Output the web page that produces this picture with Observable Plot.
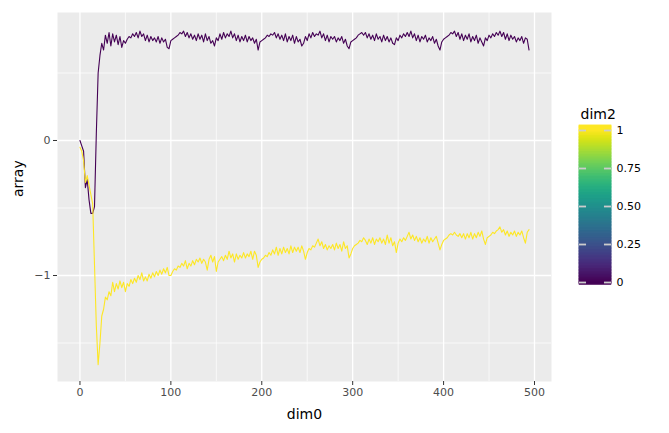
<!DOCTYPE html>
<html>
<head>
<meta charset="utf-8">
<script src="https://cdn.jsdelivr.net/npm/d3@7"></script>
<script src="https://cdn.jsdelivr.net/npm/@observablehq/plot@0.6"></script>
<style>
  html, body { margin: 0; padding: 0; background: #ffffff; }
  #wrap { position: relative; width: 669px; height: 433px; font-family: "DejaVu Sans", sans-serif; }
  #main { position: absolute; left: 0; top: 0; }
  #legend { position: absolute; left: 560px; top: 0; }
</style>
</head>
<body>
<div id="wrap"><div id="main"></div><div id="legend"></div></div>
<script>
// dim0 coordinate: sampled every 2 steps from 0 to 494
const dim0Step = 2;

// dim2 = 0 (purple series)
const array_dim2_0 = [
  0.00,-0.04,-0.08,-0.35,-0.29,-0.44,-0.54,-0.54,-0.49,0.05,
  0.50,0.63,0.72,0.67,0.78,0.72,0.80,0.70,0.79,0.73,
  0.78,0.71,0.77,0.69,0.74,0.72,0.75,0.77,0.76,0.79,
  0.77,0.80,0.76,0.81,0.77,0.79,0.74,0.78,0.73,0.77,
  0.74,0.76,0.73,0.77,0.72,0.76,0.73,0.75,0.69,0.68,
  0.74,0.75,0.76,0.77,0.78,0.80,0.79,0.81,0.77,0.80,
  0.76,0.79,0.75,0.78,0.74,0.79,0.75,0.78,0.73,0.79,
  0.74,0.77,0.72,0.74,0.70,0.76,0.74,0.79,0.75,0.80,
  0.76,0.79,0.77,0.81,0.76,0.79,0.74,0.78,0.73,0.77,
  0.74,0.78,0.73,0.77,0.74,0.76,0.72,0.75,0.67,0.73,
  0.74,0.75,0.76,0.78,0.77,0.79,0.78,0.80,0.76,0.79,
  0.75,0.78,0.74,0.79,0.73,0.77,0.74,0.78,0.72,0.77,
  0.73,0.75,0.70,0.72,0.77,0.74,0.79,0.76,0.80,0.77,
  0.79,0.78,0.81,0.76,0.79,0.74,0.78,0.73,0.77,0.75,
  0.77,0.73,0.76,0.74,0.77,0.72,0.75,0.70,0.68,0.73,
  0.74,0.75,0.76,0.78,0.79,0.80,0.78,0.80,0.76,0.79,
  0.75,0.78,0.74,0.79,0.75,0.77,0.73,0.78,0.74,0.77,
  0.73,0.76,0.72,0.71,0.76,0.74,0.78,0.76,0.79,0.77,
  0.80,0.77,0.81,0.76,0.79,0.74,0.78,0.73,0.77,0.75,
  0.78,0.73,0.76,0.74,0.77,0.72,0.75,0.70,0.67,0.73,
  0.75,0.76,0.77,0.78,0.80,0.79,0.81,0.77,0.80,0.75,
  0.79,0.74,0.78,0.75,0.79,0.73,0.77,0.74,0.78,0.72,
  0.76,0.73,0.70,0.76,0.74,0.78,0.76,0.79,0.77,0.80,
  0.78,0.81,0.77,0.80,0.75,0.79,0.74,0.78,0.75,0.77,
  0.73,0.76,0.74,0.77,0.72,0.76,0.75,0.67
];

// dim2 = 1 (yellow series)
const array_dim2_1 = [
  -0.05,-0.08,-0.15,-0.31,-0.26,-0.33,-0.40,-0.47,-0.92,-1.37,
  -1.66,-1.50,-1.30,-1.25,-1.16,-1.18,-1.12,-1.15,-1.05,-1.12,
  -1.06,-1.10,-1.04,-1.09,-1.05,-1.12,-1.06,-1.08,-1.03,-1.06,
  -1.02,-1.05,-1.00,-1.03,-0.98,-1.04,-1.01,-1.04,-0.99,-1.02,
  -0.98,-1.01,-0.97,-1.00,-0.96,-0.99,-0.95,-0.98,-0.94,-1.00,
  -1.00,-0.97,-0.95,-0.96,-0.93,-0.94,-0.91,-0.93,-0.89,-0.95,
  -0.91,-0.93,-0.89,-0.92,-0.88,-0.90,-0.87,-0.91,-0.88,-0.90,
  -0.96,-0.88,-0.85,-0.90,-0.86,-0.97,-0.90,-0.88,-0.86,-0.89,
  -0.85,-0.88,-0.82,-0.87,-0.84,-0.90,-0.84,-0.88,-0.85,-0.87,
  -0.83,-0.87,-0.84,-0.86,-0.82,-0.88,-0.82,-0.85,-0.94,-0.90,
  -0.88,-0.87,-0.85,-0.86,-0.83,-0.85,-0.81,-0.84,-0.79,-0.85,
  -0.80,-0.84,-0.79,-0.83,-0.80,-0.84,-0.78,-0.83,-0.79,-0.82,
  -0.79,-0.83,-0.78,-0.82,-0.88,-0.83,-0.80,-0.81,-0.78,-0.79,
  -0.76,-0.73,-0.78,-0.75,-0.80,-0.77,-0.81,-0.78,-0.80,-0.77,
  -0.81,-0.76,-0.80,-0.77,-0.82,-0.75,-0.80,-0.78,-0.87,-0.84,
  -0.80,-0.78,-0.77,-0.76,-0.74,-0.75,-0.72,-0.74,-0.77,-0.73,
  -0.76,-0.72,-0.77,-0.73,-0.75,-0.72,-0.76,-0.73,-0.77,-0.70,
  -0.76,-0.72,-0.78,-0.75,-0.83,-0.76,-0.73,-0.75,-0.72,-0.74,
  -0.71,-0.68,-0.73,-0.70,-0.74,-0.71,-0.75,-0.72,-0.76,-0.73,
  -0.75,-0.71,-0.76,-0.72,-0.75,-0.73,-0.71,-0.76,-0.81,-0.77,
  -0.74,-0.73,-0.72,-0.70,-0.69,-0.70,-0.68,-0.70,-0.71,-0.69,
  -0.72,-0.69,-0.73,-0.69,-0.72,-0.68,-0.73,-0.69,-0.72,-0.68,
  -0.71,-0.67,-0.73,-0.77,-0.72,-0.71,-0.70,-0.68,-0.69,-0.67,
  -0.66,-0.64,-0.68,-0.66,-0.70,-0.67,-0.71,-0.68,-0.70,-0.67,
  -0.71,-0.68,-0.70,-0.67,-0.72,-0.76,-0.68,-0.66
];

const xMajorTicks = [0, 100, 200, 300, 400, 500];
const xMinorTicks = [50, 150, 250, 350, 450];
const yMajorTicks = [-1, 0];
const yMinorTicks = [-1.5, -0.5, 0.5];
const legendTicks = [0, 0.25, 0.5, 0.75, 1];
const legendLabels = ["0", "0.25", "0.50", "0.75", "1"];

// long table built from the arrays
const rows = [];
array_dim2_0.forEach((v, i) => rows.push({dim0: i * dim0Step, dim2: 0, array: v}));
array_dim2_1.forEach((v, i) => rows.push({dim0: i * dim0Step, dim2: 1, array: v}));

const font = "'DejaVu Sans', sans-serif";

const main = Plot.plot({
  width: 669,
  height: 433,
  marginLeft: 57,
  marginRight: 118,
  marginTop: 12,
  marginBottom: 52,
  style: {fontFamily: font, background: "transparent", overflow: "visible"},
  x: {domain: [-24.7, 518.7]},
  y: {domain: [-1.785, 0.948]},
  color: {type: "linear", scheme: "viridis", domain: [0, 1]},
  marks: [
    Plot.frame({fill: "#EBEBEB", stroke: null}),
    Plot.gridX(xMinorTicks, {stroke: "#ffffff", strokeOpacity: 1, strokeWidth: 0.7}),
    Plot.gridY(yMinorTicks, {stroke: "#ffffff", strokeOpacity: 1, strokeWidth: 0.7}),
    Plot.gridX(xMajorTicks, {stroke: "#ffffff", strokeOpacity: 1, strokeWidth: 1.3}),
    Plot.gridY(yMajorTicks, {stroke: "#ffffff", strokeOpacity: 1, strokeWidth: 1.3}),
    Plot.line(rows, {x: "dim0", y: "array", z: "dim2", stroke: "dim2", strokeWidth: 1.1}),
    Plot.axisX(xMajorTicks, {tickSize: 4, tickPadding: 3, fontSize: 11, stroke: "#333333", fill: "#4D4D4D", label: null, tickFormat: d => String(d)}),
    Plot.axisY(yMajorTicks, {tickSize: 4, tickPadding: 3, fontSize: 11, stroke: "#333333", fill: "#4D4D4D", label: null, tickFormat: d => d < 0 ? "\u2212" + Math.abs(d) : String(d)}),
    Plot.text(["dim0"], {text: d => d, frameAnchor: "bottom", lineAnchor: "middle", dy: 33, fontSize: 14, fill: "#000000"}),
    Plot.text(["array"], {text: d => d, frameAnchor: "left", lineAnchor: "middle", dx: -39, rotate: -90, fontSize: 14, fill: "#000000"})
  ]
});
document.getElementById("main").appendChild(main);

// colour bar legend
const stops = d3.range(-0.016, 1.033, 0.005);
const legend = Plot.plot({
  width: 109,
  height: 433,
  marginLeft: 19,
  marginRight: 58,
  marginTop: 130,
  marginBottom: 151,
  style: {fontFamily: font, background: "transparent", overflow: "visible"},
  x: {domain: [0, 1], axis: null},
  y: {domain: [0, 1], axis: null},
  color: {type: "linear", scheme: "viridis", domain: [0, 1], clamp: true},
  marks: [
    Plot.rect(stops, {x1: 0, x2: 1, y1: d => d, y2: d => Math.min(d + 0.008, 1.033), fill: d => d, stroke: d => d, strokeWidth: 0.6}),
    Plot.ruleY(legendTicks, {x1: 0, x2: 0.22, stroke: "#CCCCCC", strokeWidth: 1.8}),
    Plot.ruleY(legendTicks, {x1: 0.78, x2: 1, stroke: "#CCCCCC", strokeWidth: 1.8}),
    Plot.text(legendTicks, {x: 1, y: d => d, dx: 5, text: (d, i) => legendLabels[i], textAnchor: "start", fontSize: 11, fill: "#000000"}),
    Plot.text(["dim2"], {text: d => d, frameAnchor: "top-left", lineAnchor: "middle", dx: 1, dy: -16, textAnchor: "start", fontSize: 14, fill: "#000000"})
  ]
});
document.getElementById("legend").appendChild(legend);
</script>
</body>
</html>
